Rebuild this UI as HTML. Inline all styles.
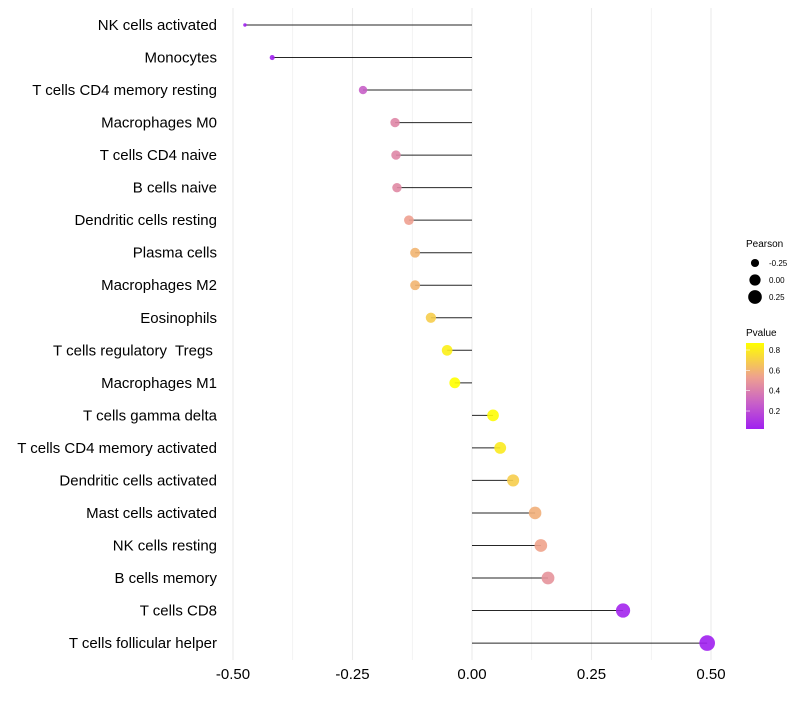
<!DOCTYPE html>
<html><head><meta charset="utf-8"><style>
body{margin:0;background:#fff;font-family:"Liberation Sans",sans-serif}
text{white-space:pre}
</style></head><body>
<svg id="chart" width="800" height="700" xmlns="http://www.w3.org/2000/svg" font-family="Liberation Sans, sans-serif">
<g id="grid"></g><g id="marks"></g><g id="ylab"></g><g id="xlab"></g>
<g id="legend">
<text x="746" y="247" font-size="10">Pearson</text>
<g id="sizeleg"></g>
<text x="746" y="336" font-size="10">Pvalue</text>
<defs><linearGradient id="pg" x1="0" y1="1" x2="0" y2="0">
<stop offset="0" stop-color="#a020f0"/><stop offset="0.3" stop-color="#c860c8"/><stop offset="0.6" stop-color="#eea090"/><stop offset="1" stop-color="#ffff00"/></linearGradient></defs>
<rect x="746" y="343" width="18" height="86" fill="url(#pg)"/>
<g id="colleg"></g>
</g>
</svg>
<script>
const categories=["NK cells activated","Monocytes","T cells CD4 memory resting","Macrophages M0","T cells CD4 naive","B cells naive","Dendritic cells resting","Plasma cells","Macrophages M2","Eosinophils","T cells regulatory  Tregs ","Macrophages M1","T cells gamma delta","T cells CD4 memory activated","Dendritic cells activated","Mast cells activated","NK cells resting","B cells memory","T cells CD8","T cells follicular helper"];
const pearson=[-0.475,-0.418,-0.228,-0.161,-0.159,-0.157,-0.132,-0.119,-0.119,-0.086,-0.052,-0.036,0.044,0.059,0.086,0.132,0.144,0.159,0.316,0.492];
const pvalue=[0.01,0.04,0.3,0.45,0.45,0.46,0.55,0.62,0.62,0.7,0.82,0.88,0.86,0.8,0.7,0.6,0.56,0.5,0.05,0.01];
const xTicks=[-0.5,-0.25,0,0.25,0.5];
const xTickLabels=["-0.50","-0.25","0.00","0.25","0.50"];
const sizeLegend=[-0.25,0,0.25];
const colorTicks=[0.2,0.4,0.6,0.8];
const NS="http://www.w3.org/2000/svg";
const X=v=>472+v*478;
const Y=i=>25+i*32.53;
const R=v=>Math.sqrt(3+60*(v+0.475));
function lerp(a,b,t){return a.map((x,i)=>Math.round(x+(b[i]-x)*t));}
const stops=[[0.03,[160,32,240]],[0.3,[200,96,200]],[0.55,[238,160,144]],[0.87,[255,255,0]]];
function col(p){if(p<=stops[0][0])return `rgb(${stops[0][1]})`;for(let i=1;i<stops.length;i++){if(p<=stops[i][0]){const c=lerp(stops[i-1][1],stops[i][1],(p-stops[i-1][0])/(stops[i][0]-stops[i-1][0]));return `rgb(${c})`;}}return `rgb(${stops[stops.length-1][1]})`;}
function mk(t,a,parent){const e=document.createElementNS(NS,t);for(const k in a)e.setAttribute(k,a[k]);document.getElementById(parent).appendChild(e);return e;}
for(let v=-0.5;v<=0.5001;v+=0.125){const major=Math.abs((v*4)-Math.round(v*4))<1e-6;
const l=mk("line",{x1:X(v),x2:X(v),y1:8,y2:660,stroke:"#ebebeb","stroke-width":major?1.1:0.6},"grid");

}
categories.forEach((c,i)=>{
const ln=mk("line",{x1:X(0),x2:X(pearson[i]),y1:Y(i),y2:Y(i),stroke:"#000","stroke-width":1,"stroke-opacity":0.85},"marks");


const pt=mk("circle",{cx:X(pearson[i]),cy:Y(i),r:R(pearson[i]),fill:col(pvalue[i]),"fill-opacity":0.9},"marks");


const t=mk("text",{x:217,y:Y(i)+5,"text-anchor":"end","font-size":15,fill:"#000"},"ylab");
t.textContent=c;


});
xTicks.forEach((v,i)=>{const t=mk("text",{x:X(v),y:679,"text-anchor":"middle","font-size":15,fill:"#000"},"xlab");
t.textContent=xTickLabels[i];

});
sizeLegend.forEach((v,i)=>{const y=263+i*17;
const c=mk("circle",{cx:755,cy:y,r:R(v),fill:"#000"},"sizeleg");


const t=mk("text",{x:769,y:y+3,"font-size":8,fill:"#000"},"sizeleg");
t.textContent=v===0?"0.00":v.toFixed(2);

});
colorTicks.forEach(v=>{const y=411-(v-0.2)/0.6*61;
const t=mk("text",{x:769,y:y+3,"font-size":8,fill:"#000"},"colleg");
t.textContent=v.toFixed(1);


const l=mk("line",{x1:746,x2:750,y1:y,y2:y,stroke:"#fff","stroke-width":0.6},"colleg");

});
</script>
</body></html>
